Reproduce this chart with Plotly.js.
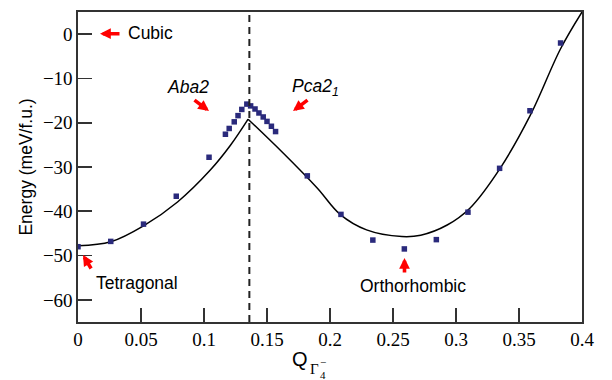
<!DOCTYPE html>
<html><head><meta charset="utf-8">
<script src="https://cdn.plot.ly/plotly-3.0.1.min.js"></script>
<style>html,body{margin:0;padding:0;background:#fff}#chart{width:612px;height:380px}</style>
</head><body><div id="chart"></div>
<script>
// DFT energies (markers)
const pointQ = [0.000, 0.026, 0.052, 0.078, 0.104, 0.117, 0.120, 0.124, 0.127, 0.130, 0.134, 0.137, 0.1405, 0.1436, 0.147, 0.150, 0.1535, 0.1568, 0.182, 0.2087, 0.234, 0.259, 0.2844, 0.3095, 0.3346, 0.3587, 0.383];
const pointE = [-48.0, -46.8, -42.9, -36.6, -27.8, -22.6, -21.3, -19.8, -18.4, -17.0, -15.8, -16.2, -16.9, -17.8, -18.7, -19.7, -20.8, -22.0, -32.0, -40.7, -46.5, -48.5, -46.4, -40.2, -30.3, -17.3, -2.0];
// Model curve, left branch (Aba2 side)
const leftQ = [0.000, 0.026, 0.052, 0.079, 0.105, 0.121, 0.135];
const leftE = [-47.8, -46.9, -43.3, -37.9, -30.7, -25.1, -19.2];
// Model curve, right branch (Pca2_1 side)
const rightQ = [0.135, 0.163, 0.190, 0.208, 0.229, 0.257, 0.272, 0.293, 0.311, 0.335, 0.359, 0.383, 0.400];
const rightE = [-19.2, -26.9, -34.8, -40.7, -44.2, -45.7, -45.4, -43.1, -39.3, -30.3, -18.3, -3.3, 5.0];
// Phase boundary
const boundaryQ = 0.136;
// Tick labels
const xTicks = [0, 0.05, 0.1, 0.15, 0.2, 0.25, 0.3, 0.35, 0.4];
const xTickText = ['0', '0.05', '0.1', '0.15', '0.2', '0.25', '0.3', '0.35', '0.4'];
const yTicks = [0, -10, -20, -30, -40, -50, -60];

const serif = 'Liberation Serif';
const sans = 'Liberation Sans';
const L = 78, R = 582, T = 12, B = 322;
const px = x => (x - L) / (R - L);
const py = y => (B - y) / (B - T);

const traces = [
  {x: leftQ, y: leftE, mode: 'lines', line: {color: '#000', width: 1.5, shape: 'spline'}, hoverinfo: 'skip'},
  {x: rightQ, y: rightE, mode: 'lines', line: {color: '#000', width: 1.5, shape: 'spline'}, hoverinfo: 'skip'},
  {x: pointQ, y: pointE, mode: 'markers', marker: {symbol: 'square', size: 5.5, color: '#2a2a7c'}}
];

function arrow(hx, hy, tx, ty) {
  return {xref: 'paper', yref: 'paper', x: px(hx), y: py(hy), ax: tx - hx, ay: ty - hy,
    text: '', showarrow: true, arrowhead: 2, arrowsize: 0.6, arrowwidth: 3.6, arrowcolor: '#ff0000', standoff: 0};
}
function label(text, cx, cy, font) {
  return {xref: 'paper', yref: 'paper', x: px(cx), y: py(cy), xanchor: 'center', yanchor: 'middle',
    text: text, showarrow: false, font: font};
}
const labFont = {family: sans, size: 17.5, color: '#000'};
const annotations = [
  arrow(100, 33.7, 121, 33.7),
  label('Cubic', 150, 33.5, labFont),
  arrow(209, 111, 193, 99),
  label('<i>Aba2</i>', 188, 87, labFont),
  arrow(293, 111, 309, 99),
  label('<i>Pca2<sub>1</sub></i>', 315, 88, labFont),
  arrow(83, 255, 92, 270),
  label('Tetragonal', 136.5, 283, labFont),
  arrow(404.5, 258, 404.5, 274),
  label('Orthorhombic', 413, 286, labFont),
  label('Q', 300, 359, {family: sans, size: 20, color: '#000'}),
  label('Γ', 314, 369, {family: serif, size: 15, color: '#000'}),
  label('4', 323, 375, {family: serif, size: 11, color: '#000'}),
  label('−', 323, 362, {family: serif, size: 11, color: '#000'})
];

const tickFont = {family: serif, size: 19, color: '#000'};
const layout = {
  width: 612, height: 380,
  font: {family: serif, size: 19, color: '#000'},
  margin: {l: L, r: 612 - R, t: T, b: 380 - B},
  paper_bgcolor: '#fff', plot_bgcolor: '#fff',
  showlegend: false,
  xaxis: {range: [0, 0.4], tickmode: 'array', tickvals: xTicks, ticktext: xTickText, ticks: 'inside', ticklen: 14, tickwidth: 1.6,
    tickcolor: '#333', showline: true, linecolor: '#333', linewidth: 1.6, mirror: true, showgrid: false, zeroline: false,
    tickfont: tickFont},
  yaxis: {range: [-65, 5], tickmode: 'array', tickvals: yTicks, ticks: 'inside', ticklen: 14, tickwidth: 1.6,
    tickcolor: '#333', showline: true, linecolor: '#333', linewidth: 1.6, mirror: true, showgrid: false, zeroline: false,
    tickfont: tickFont,
    title: {text: 'Energy (meV/f.u.)', font: {family: sans, size: 17.5, color: '#000'}, standoff: 6}},
  shapes: [{type: 'line', xref: 'x', yref: 'paper', x0: boundaryQ, x1: boundaryQ, y0: 0, y1: 1,
    line: {color: '#222', width: 2, dash: '7px,5px'}}],
  annotations: annotations
};
Plotly.newPlot('chart', traces, layout, {displayModeBar: false, staticPlot: true});
</script></body></html>
